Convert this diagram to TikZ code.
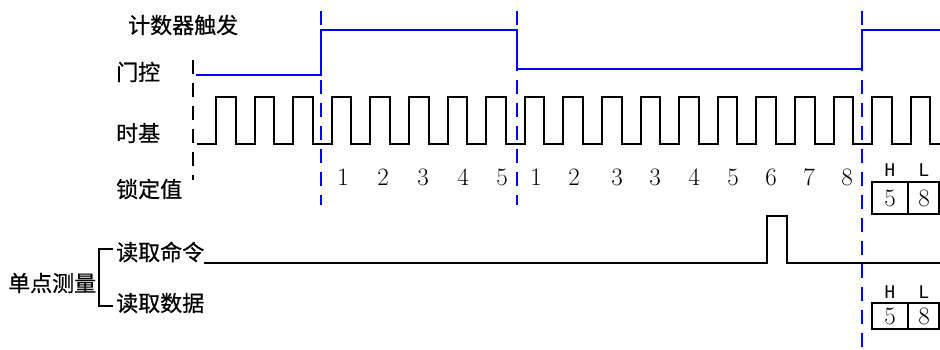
\documentclass[tikz,border=0pt]{standalone}
\usepackage{fontspec}
\newfontfamily\cjk[FakeBold=0.6]{Noto Sans CJK SC}
\newfontfamily\monof{DejaVu Sans Mono}
\begin{document}
\begin{tikzpicture}[x=1pt,y=-1pt,
  lbl/.style={font=\cjk\fontsize{22}{22}\selectfont, inner sep=0pt, anchor=west},
  num/.style={font=\fontsize{25}{25}\selectfont, inner sep=0pt},
  hl/.style={font=\monof\fontsize{17.5}{17.5}\selectfont, inner sep=0pt},
  bnum/.style={font=\fontsize{25}{25}\selectfont, inner sep=0pt},
  sig/.style={line width=2pt, line join=miter},
  bluesig/.style={sig, draw=blue},
  vdash/.style={line width=2pt, draw=blue, dash pattern=on 14pt off 9pt},
  kdash/.style={line width=1.6pt, draw=black, dash pattern=on 14pt off 9pt},
  boxs/.style={line width=1.5pt}]
\useasboundingbox (0,0) rectangle (940,350);

% labels
\node[lbl] (trig) at (128,25) {计数器触发};
\node[lbl] (gate) at (116,72) {门控};
\node[lbl] (tb) at (116,133) {时基};
\node[lbl] (lock) at (116,189) {锁定值};
\node[lbl] (single) at (8,283) {单点测量};
\node[lbl] (rcmd) at (116,252) {读取命令};
\node[lbl] (rdat) at (116,303) {读取数据};

% bracket
\coordinate (bt) at (113,249);
\coordinate (bb) at (113,306);
\draw[line width=1.8pt] (bt) -- (99,249) -- (99,306) -- (bb);

% gate signal
\draw[bluesig] (196,75) -- (320.5,75) -- (320.5,30) -- (517,30) -- (517,69) -- (862,69) -- (862,30) -- (940,30);

% time base clock
\draw[sig] (197,144) \foreach \k in {0,...,18} { -- ({216+38.6*\k},144) -- ({216+38.6*\k},97) -- ({235.5+38.6*\k},97) -- ({235.5+38.6*\k},144) } -- (940,144);

% read command
\draw[sig] (rcmd.east |- 0,263) -- (767,263) -- (767,216) -- (787,216) -- (787,263) -- (940,263);

% counts
\foreach \x/\t [count=\i] in {343/1,383/2,423/3,463/4,502/5,536/1,574/2,617/3,655/3,694/4,733/5,771/6,809/7,847/8}
  \node[num] (c\i) at (\x,177) {\t};

% boxes
\foreach \y/\h/\b [count=\j] in {182/170/214,303/292/329}{
  \draw[boxs] (872,\y) rectangle (939,\b);
  \draw[boxs] (908,\y) -- (908,\b);
  \node[hl] (H\j) at (890,\h) {H};
  \node[hl] (L\j) at (924,\h) {L};
  \node[bnum] (v5\j) at (890,{(\y+\b)/2}) {5};
  \node[bnum] (v8\j) at (924,{(\y+\b)/2}) {8};
}

% dashed markers
\draw[kdash] (193,60) -- (193,180);
\draw[vdash] (320.5,11) -- (320.5,205);
\draw[vdash] (517,11) -- (517,205);
\draw[vdash] (862,11) -- (862,350);
\end{tikzpicture}
\end{document}
